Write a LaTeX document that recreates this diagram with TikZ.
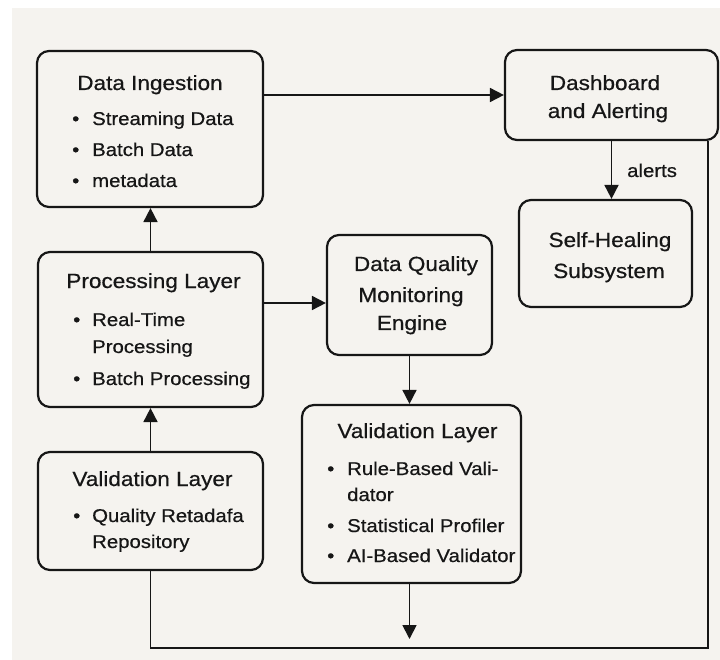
\documentclass[tikz,border=0pt]{standalone}
\usepackage{fontspec}
\setmainfont{Liberation Sans}[FakeStretch=1.1,FakeBold=0.6]
\usetikzlibrary{arrows.meta}
\definecolor{bgc}{HTML}{F5F3EF}
\definecolor{ink}{HTML}{161616}
\tikzset{
  box/.style={draw=ink, line width=2.2pt, rounded corners=12pt, fill=bgc, inner sep=0pt},
  conn/.style={draw=ink, line width=1.8pt},
  arr/.style={conn, -{Triangle[length=14pt,width=14pt]}},
  ttl/.style={anchor=base, inner sep=0pt, text=ink, font=\fontsize{20.5}{24}\selectfont},
  itm/.style={anchor=base west, inner sep=0pt, text=ink, font=\fontsize{18.5}{22}\selectfont},
}
\newcommand{\bul}{\textbullet\hspace{0pt}}
\begin{document}
\begin{tikzpicture}[x=1pt,y=-1pt]
\useasboundingbox (0,0) rectangle (720,660);
\fill[white] (0,0) rectangle (720,660);
\fill[bgc] (12,8) rectangle (720,660);

% boxes
\node[box, minimum width=226pt, minimum height=156pt] (ing) at (150,129) {};
\node[box, minimum width=213pt, minimum height=90pt] (dash) at (611.5,95) {};
\node[box, minimum width=173pt, minimum height=107pt] (heal) at (605.5,253.5) {};
\node[box, minimum width=225pt, minimum height=155pt] (proc) at (150.5,329.5) {};
\node[box, minimum width=165pt, minimum height=120pt] (dqm) at (409.5,295) {};
\node[box, minimum width=219pt, minimum height=178pt] (valr) at (411.5,494) {};
\node[box, minimum width=225pt, minimum height=118pt] (vall) at (150.5,511) {};

% Data Ingestion text
\node[ttl] (t1) at (150,90) {Data Ingestion};
\node[itm] (b1a) at (72,125) {\bul};
\node[itm] (i1a) at (92,125) {Streaming Data};
\node[itm] (b1b) at (72,156) {\bul};
\node[itm] (i1b) at (92,156) {Batch Data};
\node[itm] (b1c) at (72,187) {\bul};
\node[itm] (i1c) at (92,187) {metadata};

% Dashboard
\node[ttl] (t2a) at (605,90) {Dashboard};
\node[ttl] (t2b) at (608,118) {and Alerting};

% Self-Healing
\node[ttl] (t3a) at (610,247) {Self-Healing};
\node[ttl] (t3b) at (609,278) {Subsystem};

% Processing Layer
\node[ttl] (t4) at (153.5,288) {Processing Layer};
\node[itm] (b4a) at (73,326) {\bul};
\node[itm] (i4a) at (92,326) {Real-Time};
\node[itm] (i4b) at (92,353) {Processing};
\node[itm] (b4c) at (73,385) {\bul};
\node[itm] (i4c) at (92,385) {Batch Processing};

% DQM Engine
\node[ttl] (t5a) at (416,271) {Data Quality};
\node[ttl] (t5b) at (411,302) {Monitoring};
\node[ttl] (t5c) at (412,330) {Engine};

% Validation Layer (right)
\node[ttl] (t6) at (417.5,438) {Validation Layer};
\node[itm] (b6a) at (327,475) {\bul};
\node[itm] (i6a) at (347,475) {Rule-Based Vali-};
\node[itm] (i6b) at (347,501) {dator};
\node[itm] (b6c) at (327,532) {\bul};
\node[itm] (i6c) at (347,532) {Statistical Profiler};
\node[itm] (b6d) at (327,562) {\bul};
\node[itm] (i6d) at (347,562) {AI-Based Validator};

% Validation Layer (left)
\node[ttl] (t7) at (152.5,486) {Validation Layer};
\node[itm] (b7a) at (73,522) {\bul};
\node[itm] (i7a) at (92,522) {Quality Retadafa};
\node[itm] (i7b) at (92,548) {Repository};

% connectors
\draw[arr] (dash.west -| ing.east) -- (dash.west);
\draw[arr] (proc.north) -- (proc.north |- ing.south);
\draw[arr] ([yshift=26.5pt]proc.east) -- ([yshift=26.5pt]proc.east -| dqm.west);
\draw[arr] (dqm.south) -- (dqm.south |- valr.north);
\draw[arr] (dash.south) -- (dash.south |- heal.north);
\node[itm] (alerts) at (627,177) {alerts};
\draw[arr] (vall.north) -- (vall.north |- proc.south);
\coordinate (vend) at (409.5,639);
\draw[arr] (valr.south -| vend) -- (vend);
\coordinate (corner) at (708,648);
\draw[conn] (vall.south) -- (vall.south |- corner) -- (corner) -- (corner |- dash.south);
\end{tikzpicture}
\end{document}
